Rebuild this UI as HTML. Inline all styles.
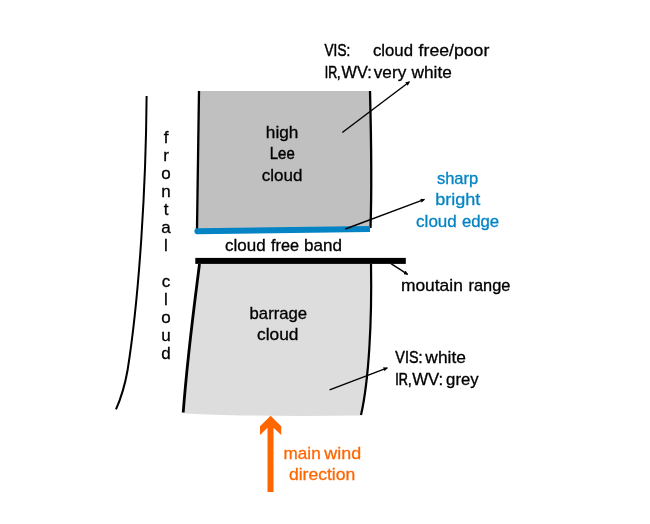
<!DOCTYPE html>
<html><head><meta charset="utf-8">
<style>
html,body{margin:0;padding:0;background:#fff;width:650px;height:524px;overflow:hidden}
svg{display:block;will-change:transform}
text{font-family:"Liberation Sans",sans-serif;font-size:17px;fill:#000;stroke:#000;stroke-width:0.3px}
</style></head><body>
<svg width="650" height="524" viewBox="0 0 650 524">
<defs>
<marker id="ah" viewBox="0 0 10 10" refX="9" refY="5" markerWidth="4.5" markerHeight="4.2" orient="auto" markerUnits="userSpaceOnUse">
<path d="M0,0 L10,5 L0,10 z" fill="#000"/>
</marker>
</defs>
<!-- frontal curve -->
<path d="M146.6,96 C146,185 139.5,295 127.6,370 C125,385 121,398 116,409.4" fill="none" stroke="#000" stroke-width="2"/>
<!-- upper cloud -->
<path d="M199,91 L370.5,91 C371.5,150 371.5,200 370.5,228 L197,229 Z" fill="#c0c0c0"/>
<path d="M199,91 L197,229" stroke="#000" stroke-width="2.3" fill="none"/>
<path d="M370,91 C371.5,150 371.5,200 370.5,228" stroke="#000" stroke-width="2.3" fill="none"/>
<path d="M197,228.3 L370,226 L370,232 L197,234.2 C193.5,234.2 193.5,228.3 197,228.3 Z" fill="#0484c4"/>
<!-- lower cloud -->
<path d="M199.5,264 L371,264 C372,320 369,380 361,415.6 L300,415.9 L240,415.4 Q205,414.6 183,413.2 C188,350 195,300 199.5,264 Z" fill="#dddddd"/>
<path d="M199.5,264 C195,300 188,350 183.2,412.5" stroke="#000" stroke-width="2.8" fill="none"/>
<path d="M371,264 C372,320 369,380 361,415" stroke="#000" stroke-width="2.2" fill="none"/>
<rect x="195.3" y="257.9" width="210.5" height="6" fill="#000"/>
<!-- arrows -->
<line x1="342.3" y1="132.5" x2="409.5" y2="81.7" stroke="#000" stroke-width="1.4" marker-end="url(#ah)"/>
<line x1="345.3" y1="229" x2="424.5" y2="199.4" stroke="#000" stroke-width="1.4" marker-end="url(#ah)"/>
<line x1="391" y1="263.7" x2="407.7" y2="274.4" stroke="#000" stroke-width="1.4" marker-end="url(#ah)"/>
<line x1="329.6" y1="389.8" x2="387.4" y2="367.9" stroke="#000" stroke-width="1.4" marker-end="url(#ah)"/>
<!-- orange arrow -->
<path d="M270.6,415.8 L281.2,426.2 L281.2,435 L273.5,427.7 L273.5,492 L267.5,492 L267.5,427.7 L260,435 L260,426.2 Z" fill="#ff6600"/>
<!-- texts -->
<text x="324.60" y="56.4" textLength="25.58" lengthAdjust="spacingAndGlyphs" style="fill:#000;stroke:#000;stroke-width:0.54px">VIS:</text>
<text x="372.90" y="56.4" textLength="40.09" lengthAdjust="spacingAndGlyphs" style="fill:#000;stroke:#000;stroke-width:0.32px">cloud</text>
<text x="418.60" y="56.4" textLength="70.69" lengthAdjust="spacingAndGlyphs" style="fill:#000;stroke:#000;stroke-width:0.30px">free/poor</text>
<text x="324.70" y="77.5" textLength="15.82" lengthAdjust="spacingAndGlyphs" style="fill:#000;stroke:#000;stroke-width:0.63px">IR,</text>
<text x="341.50" y="77.5" textLength="30.18" lengthAdjust="spacingAndGlyphs" style="fill:#000;stroke:#000;stroke-width:0.35px">WV:</text>
<text x="373.80" y="77.5" textLength="32.42" lengthAdjust="spacingAndGlyphs" style="fill:#000;stroke:#000;stroke-width:0.30px">very</text>
<text x="411.55" y="77.5" textLength="40.24" lengthAdjust="spacingAndGlyphs" style="fill:#000;stroke:#000;stroke-width:0.30px">white</text>
<text x="265.80" y="137.7" textLength="32.59" lengthAdjust="spacingAndGlyphs" style="fill:#000;stroke:#000;stroke-width:0.30px">high</text>
<text x="269.80" y="159.1" textLength="24.91" lengthAdjust="spacingAndGlyphs" style="fill:#000;stroke:#000;stroke-width:0.45px">Lee</text>
<text x="261.80" y="180.7" textLength="40.59" lengthAdjust="spacingAndGlyphs" style="fill:#000;stroke:#000;stroke-width:0.30px">cloud</text>
<text x="436.90" y="183.9" textLength="41.28" lengthAdjust="spacingAndGlyphs" style="fill:#0484c4;stroke:#0484c4;stroke-width:0.34px">sharp</text>
<text x="435.20" y="205.2" textLength="45.17" lengthAdjust="spacingAndGlyphs" style="fill:#0484c4;stroke:#0484c4;stroke-width:0.30px">bright</text>
<text x="416.10" y="226.5" textLength="40.69" lengthAdjust="spacingAndGlyphs" style="fill:#0484c4;stroke:#0484c4;stroke-width:0.30px">cloud</text>
<text x="461.90" y="226.5" textLength="37.32" lengthAdjust="spacingAndGlyphs" style="fill:#0484c4;stroke:#0484c4;stroke-width:0.32px">edge</text>
<text x="225.00" y="251.0" textLength="40.59" lengthAdjust="spacingAndGlyphs" style="fill:#000;stroke:#000;stroke-width:0.30px">cloud</text>
<text x="271.00" y="251.0" textLength="27.99" lengthAdjust="spacingAndGlyphs" style="fill:#000;stroke:#000;stroke-width:0.35px">free</text>
<text x="304.00" y="251.0" textLength="38.02" lengthAdjust="spacingAndGlyphs" style="fill:#000;stroke:#000;stroke-width:0.30px">band</text>
<text x="400.90" y="291.2" textLength="61.98" lengthAdjust="spacingAndGlyphs" style="fill:#000;stroke:#000;stroke-width:0.30px">moutain</text>
<text x="468.50" y="291.2" textLength="41.88" lengthAdjust="spacingAndGlyphs" style="fill:#000;stroke:#000;stroke-width:0.34px">range</text>
<text x="249.60" y="318.6" textLength="57.50" lengthAdjust="spacingAndGlyphs" style="fill:#000;stroke:#000;stroke-width:0.32px">barrage</text>
<text x="257.00" y="339.9" textLength="41.49" lengthAdjust="spacingAndGlyphs" style="fill:#000;stroke:#000;stroke-width:0.30px">cloud</text>
<text x="395.30" y="363.3" textLength="27.18" lengthAdjust="spacingAndGlyphs" style="fill:#000;stroke:#000;stroke-width:0.48px">VIS:</text>
<text x="425.35" y="363.3" textLength="40.53" lengthAdjust="spacingAndGlyphs" style="fill:#000;stroke:#000;stroke-width:0.30px">white</text>
<text x="395.30" y="385.0" textLength="16.22" lengthAdjust="spacingAndGlyphs" style="fill:#000;stroke:#000;stroke-width:0.60px">IR,</text>
<text x="412.20" y="385.0" textLength="31.08" lengthAdjust="spacingAndGlyphs" style="fill:#000;stroke:#000;stroke-width:0.32px">WV:</text>
<text x="446.10" y="385.0" textLength="32.52" lengthAdjust="spacingAndGlyphs" style="fill:#000;stroke:#000;stroke-width:0.32px">grey</text>
<text x="283.60" y="458.5" textLength="37.10" lengthAdjust="spacingAndGlyphs" style="fill:#ff6600;stroke:#ff6600;stroke-width:0.30px">main</text>
<text x="324.25" y="458.5" textLength="36.86" lengthAdjust="spacingAndGlyphs" style="fill:#ff6600;stroke:#ff6600;stroke-width:0.30px">wind</text>
<text x="288.90" y="480.0" textLength="66.41" lengthAdjust="spacingAndGlyphs" style="fill:#ff6600;stroke:#ff6600;stroke-width:0.30px">direction</text>
<!-- frontal cloud -->
<g text-anchor="middle" style="stroke:none">
<text x="166" y="143">f</text>
<text x="166" y="161">r</text>
<text x="166" y="179">o</text>
<text x="166" y="197">n</text>
<text x="166" y="215">t</text>
<text x="166" y="233">a</text>
<text x="166" y="251">l</text>
<text x="166" y="287">c</text>
<text x="166" y="305">l</text>
<text x="166" y="323">o</text>
<text x="166" y="341">u</text>
<text x="166" y="359">d</text>
</g>
</svg>
</body></html>
